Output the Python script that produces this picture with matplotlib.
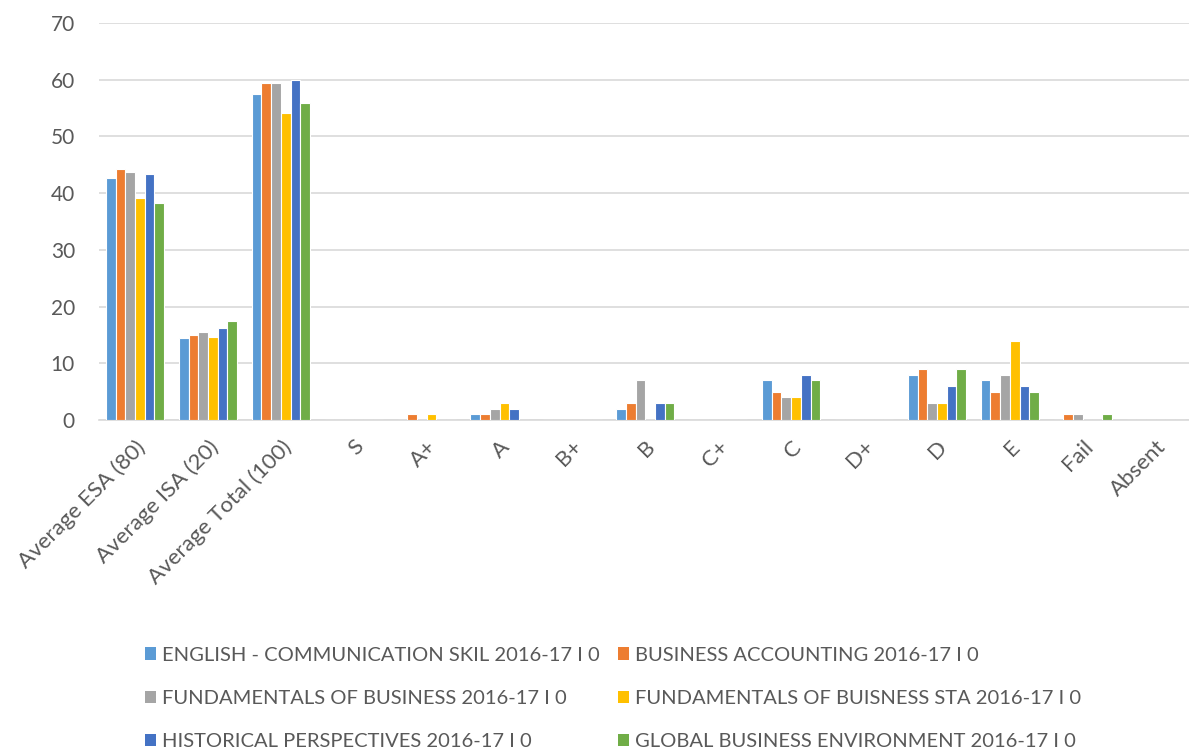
import numpy as np
import matplotlib.pyplot as plt
from matplotlib.patches import Patch

categories = ['Average ESA (80)', 'Average ISA (20)', 'Average Total (100)', 'S', 'A+', 'A',
              'B+', 'B', 'C+', 'C', 'D+', 'D', 'E', 'Fail', 'Absent']

series_names = ['ENGLISH - COMMUNICATION SKIL 2016-17 I 0',
                'BUSINESS ACCOUNTING 2016-17 I 0',
                'FUNDAMENTALS OF BUSINESS 2016-17 I 0',
                'FUNDAMENTALS OF BUISNESS STA 2016-17 I 0',
                'HISTORICAL PERSPECTIVES 2016-17 I 0',
                'GLOBAL BUSINESS ENVIRONMENT 2016-17 I 0']

english = [42.7, 14.5, 57.4, 0, 0, 1, 0, 2, 0, 7, 0, 8, 7, 0, 0]
accounting = [44.3, 15.0, 59.5, 0, 1, 1, 0, 3, 0, 5, 0, 9, 5, 1, 0]
fundamentals = [43.8, 15.5, 59.5, 0, 0, 2, 0, 7, 0, 4, 0, 3, 8, 1, 0]
fund_sta = [39.2, 14.7, 54.1, 0, 1, 3, 0, 0, 0, 4, 0, 3, 14, 0, 0]
historical = [43.4, 16.2, 59.9, 0, 0, 2, 0, 3, 0, 8, 0, 6, 6, 0, 0]
global_env = [38.2, 17.5, 55.9, 0, 0, 0, 0, 3, 0, 7, 0, 9, 5, 1, 0]

all_series = [english, accounting, fundamentals, fund_sta, historical, global_env]
colors = ['#5B9BD5', '#ED7D31', '#A5A5A5', '#FFC000', '#4472C4', '#70AD47']

plt.rcParams['font.family'] = ['Lato', 'DejaVu Sans']

fig = plt.figure(figsize=(11.89, 7.53), dpi=100)
ax = fig.add_axes([0.0829, 0.4422, 0.9197, 0.5273])

x = np.arange(len(categories))
n = len(all_series)
w = 0.133
for i, (vals, c) in enumerate(zip(all_series, colors)):
	ax.bar(x + (i - (n - 1) / 2) * w, vals, width=w, color=c, edgecolor='white', linewidth=0.8, zorder=3)

ax.set_xlim(-0.5, len(categories) - 0.5)
ax.set_ylim(0, 70)
ax.set_yticks(np.arange(0, 71, 10))
ax.grid(axis='y', color='#D9D9D9', linewidth=1.2, zorder=0)
for s in ['top', 'right', 'left']:
	ax.spines[s].set_visible(False)
ax.spines['bottom'].set_color('#D9D9D9')
ax.spines['bottom'].set_linewidth(1.2)
ax.tick_params(length=0, labelcolor='#595959', labelsize=15)
ax.tick_params(axis='y', pad=17)
ax.set_xticks(x)
ax.set_xticklabels(categories, rotation=45, ha='right', rotation_mode='anchor', fontsize=16)
ax.tick_params(axis='x', pad=12)

# legend fills row by row like Excel
order = [0, 2, 4, 1, 3, 5]
handles = [Patch(facecolor=colors[k], edgecolor='none') for k in order]
labels = [series_names[k] for k in order]
fig.legend(handles, labels, ncol=2, loc='lower left', bbox_to_anchor=(0.107, -0.02),
           frameon=False, fontsize=14.5, labelcolor='#595959', handlelength=0.55, handleheight=0.55,
           handletextpad=0.3, columnspacing=0.9, labelspacing=1.3)

fig.savefig('out.png', dpi=100)
